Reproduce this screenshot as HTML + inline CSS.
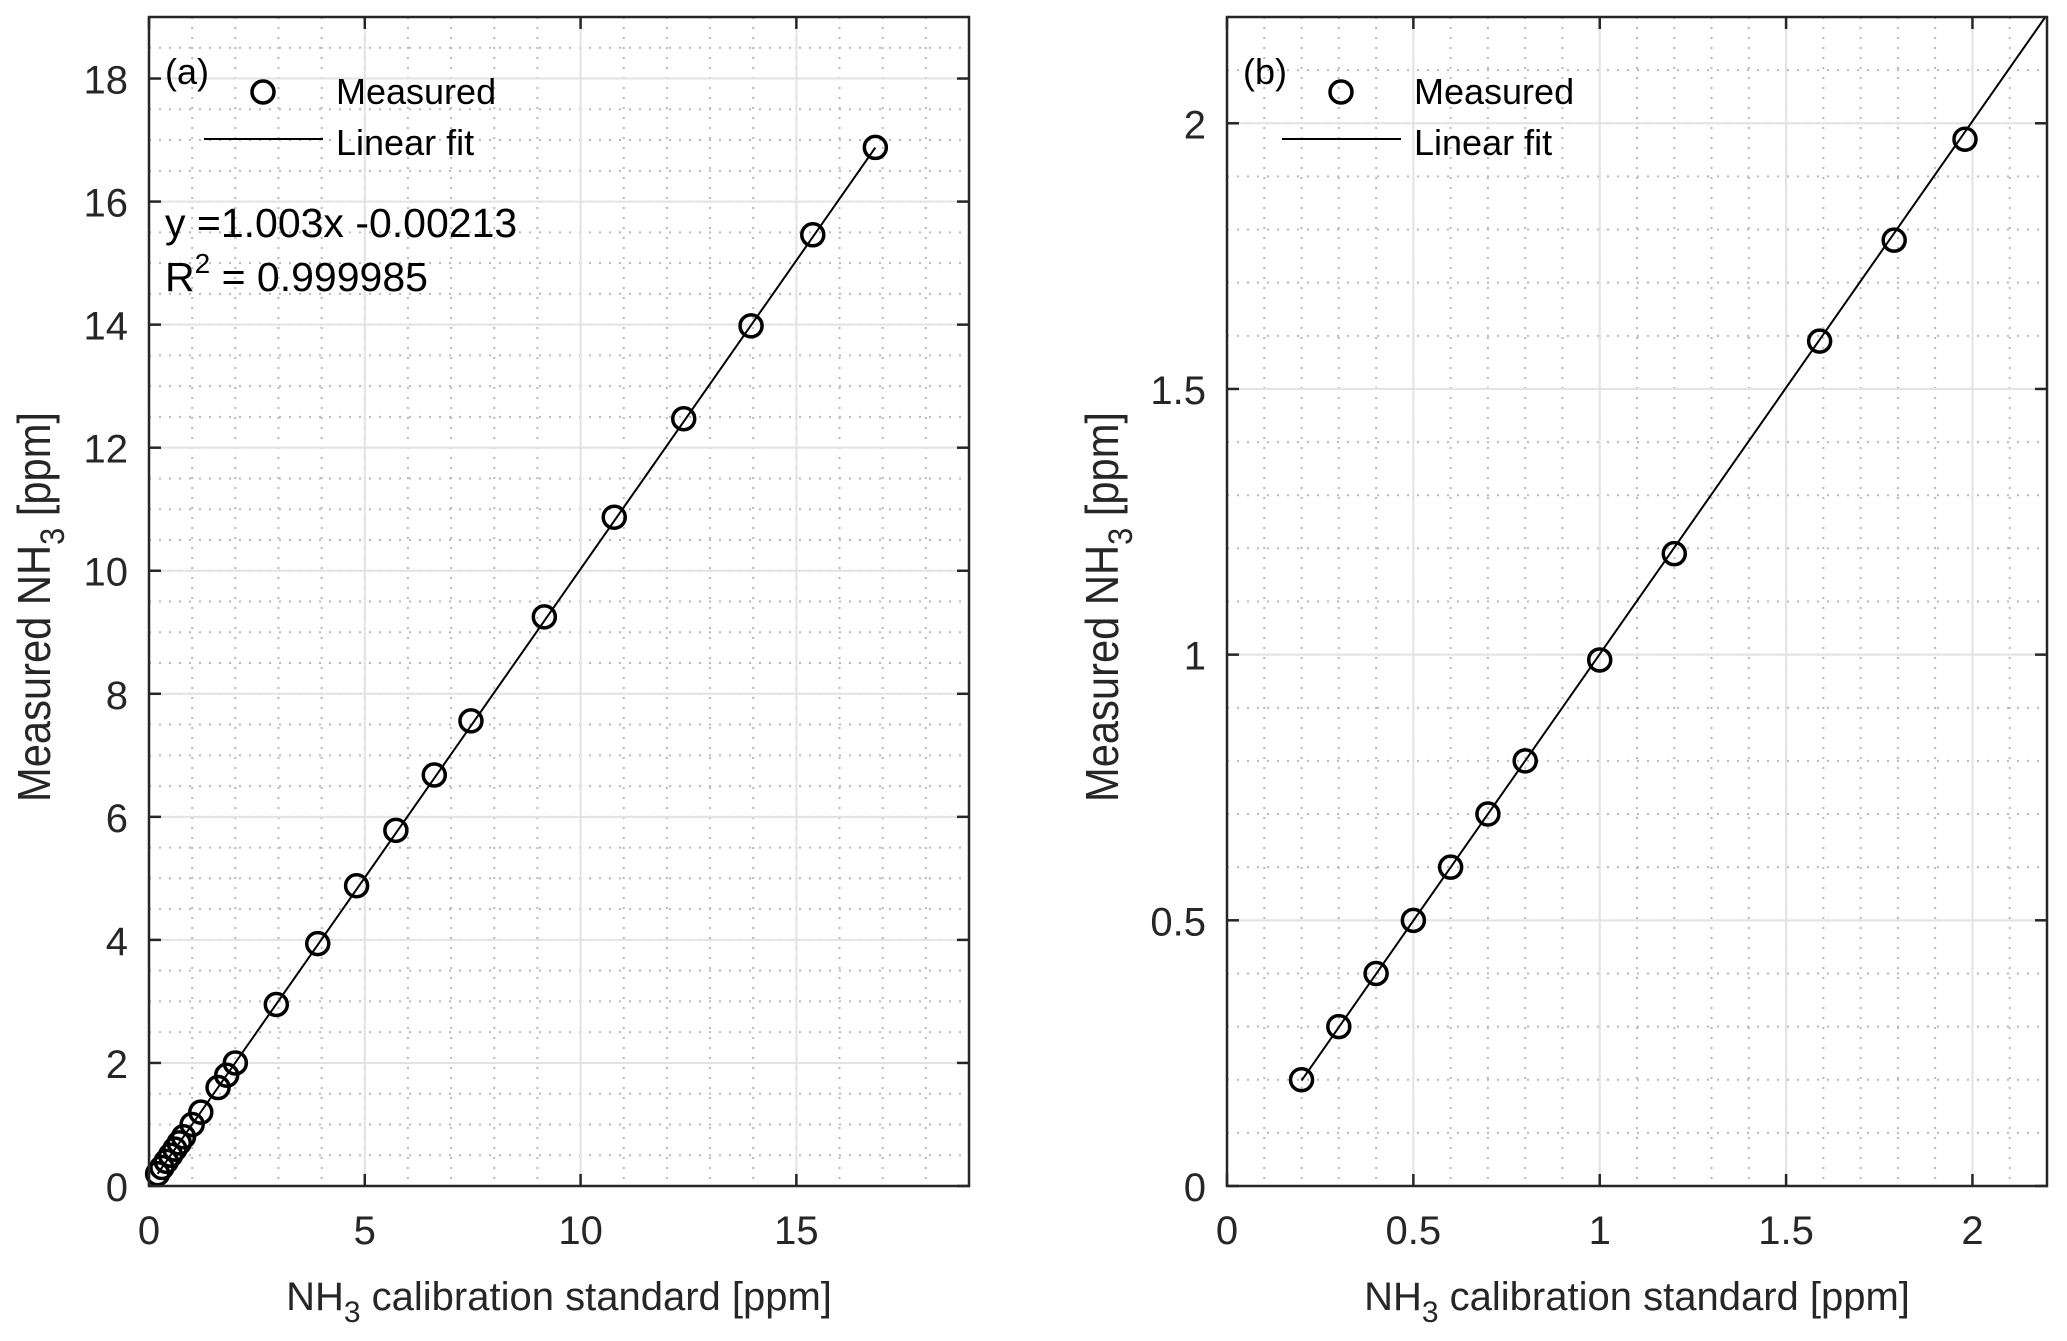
<!DOCTYPE html>
<html><head><meta charset="utf-8"><style>
html,body{margin:0;padding:0;background:#fff;}
svg{display:block;font-family:"Liberation Sans",Arial,sans-serif;}
</style></head><body>
<svg id="fig" width="2067" height="1341" viewBox="0 0 2067 1341" xmlns="http://www.w3.org/2000/svg"></svg>
<script>
// Panel (a) data
const aX = [0.2,0.3,0.4,0.5,0.6,0.7,0.8,1.0,1.2,1.6,1.8,2.0,2.95,3.91,4.81,5.72,6.61,7.46,9.16,10.78,12.39,13.95,15.38,16.83];
const aY = [0.2,0.3,0.4,0.5,0.6,0.7,0.8,1.0,1.2,1.6,1.8,2.0,2.95,3.94,4.88,5.78,6.68,7.56,9.25,10.87,12.47,13.98,15.46,16.88];
const aXTicks = [0,5,10,15];
const aYTicks = [0,2,4,6,8,10,12,14,16,18];
// Panel (b) data
const bX = [0.2,0.3,0.4,0.5,0.6,0.7,0.8,1.0,1.2,1.59,1.79,1.98];
const bY = [0.2,0.3,0.4,0.5,0.6,0.7,0.8,0.99,1.19,1.59,1.78,1.97];
const bXTicks = [0,0.5,1,1.5,2];
const bYTicks = [0,0.5,1,1.5,2];
const fitSlope = 1.003, fitIntercept = -0.00213;

const NS = "http://www.w3.org/2000/svg";
const svg = document.getElementById('fig');
function mk(tag, attrs, parent){
  const e = document.createElementNS(NS, tag);
  for (const k in attrs) e.setAttribute(k, attrs[k]);
  (parent||svg).appendChild(e);
  return e;
}

function panel(cfg){
  const g = mk('g', {});
  
  
  const L=cfg.L,R=cfg.R,T=cfg.T,B=cfg.B;
  const sx = v => L + (v - cfg.xmin)/(cfg.xmax-cfg.xmin)*(R-L);
  const sy = v => B - (v - cfg.ymin)/(cfg.ymax-cfg.ymin)*(B-T);
  const clipId = cfg.name + '-clip';
  const cp = mk('clipPath', {id: clipId}, g);
  mk('rect', {x:L, y:T, width:R-L, height:B-T}, cp);
  for (let v = cfg.xmin; v <= cfg.xmax + 1e-9; v += cfg.xMinor){
    const ln = mk('line', {x1:sx(v), x2:sx(v), y1:T, y2:B, stroke:'#b8b8b8', 'stroke-width':2, 'stroke-dasharray':'2 8'}, g);
    
    
  }
  for (let v = cfg.ymin; v <= cfg.ymax + 1e-9; v += cfg.yMinor){
    const ln = mk('line', {x1:L, x2:R, y1:sy(v), y2:sy(v), stroke:'#b8b8b8', 'stroke-width':2, 'stroke-dasharray':'2 8'}, g);
    
    
  }
  cfg.xTicks.forEach(v => {
    const ln = mk('line', {x1:sx(v), x2:sx(v), y1:T, y2:B, stroke:'#e3e3e3', 'stroke-width':2}, g);
    
    
  });
  cfg.yTicks.forEach(v => {
    const ln = mk('line', {x1:L, x2:R, y1:sy(v), y2:sy(v), stroke:'#e3e3e3', 'stroke-width':2}, g);
    
    
  });
  cfg.xTicks.forEach(v => {
    mk('line', {x1:sx(v), x2:sx(v), y1:B, y2:B-12, stroke:'#262626', 'stroke-width':2.5}, g);
    mk('line', {x1:sx(v), x2:sx(v), y1:T, y2:T+12, stroke:'#262626', 'stroke-width':2.5}, g);
    const t = mk('text', {x:sx(v), y:1244, 'text-anchor':'middle', 'font-size':40, fill:'#262626'}, g);
    t.textContent = String(v);
    
    
  });
  cfg.yTicks.forEach(v => {
    mk('line', {x1:L, x2:L+12, y1:sy(v), y2:sy(v), stroke:'#262626', 'stroke-width':2.5}, g);
    mk('line', {x1:R, x2:R-12, y1:sy(v), y2:sy(v), stroke:'#262626', 'stroke-width':2.5}, g);
    const t = mk('text', {x:L-21, y:sy(v)+15, 'text-anchor':'end', 'font-size':40, fill:'#262626'}, g);
    t.textContent = String(v);
    
    
  });
  const fx0 = cfg.fitFrom, fx1 = cfg.fitTo;
  const fl = mk('line', {x1:sx(fx0), y1:sy(fitSlope*fx0+fitIntercept), x2:sx(fx1), y2:sy(fitSlope*fx1+fitIntercept), stroke:'#000', 'stroke-width':2, 'clip-path':'url(#'+clipId+')'}, g);
  
  
  cfg.xs.forEach((x,i) => {
    const c = mk('circle', {cx:sx(x), cy:sy(cfg.ys[i]), r:11, fill:'none', stroke:'#000', 'stroke-width':3.5}, g);
    
    
  });
  const box = mk('rect', {x:L, y:T, width:R-L, height:B-T, fill:'none', stroke:'#262626', 'stroke-width':2.5}, g);
  
  
  const xt = mk('text', {x:(L+R)/2, y:1310, 'text-anchor':'middle', 'font-size':40, fill:'#262626'}, g);
  xt.innerHTML = 'NH<tspan dy="12" font-size="30">3</tspan><tspan dy="-12"> calibration standard [ppm]</tspan>';
  
  
  const yx = cfg.ytitleX, yc = 607;
  const yt = mk('text', {x:yx, y:yc, 'text-anchor':'middle', 'font-size':46, fill:'#262626', transform:'rotate(-90 '+yx+' '+yc+')', textLength:390, lengthAdjust:'spacingAndGlyphs'}, g);
  yt.innerHTML = 'Measured NH<tspan dy="14" font-size="34">3</tspan><tspan dy="-14"> [ppm]</tspan>';
  
  
  const lg = mk('g', {}, g);
  
  
  const pl = mk('text', {x:L+16, y:84, 'font-size':36, fill:'#000'}, lg);
  pl.textContent = cfg.label;
  
  
  const lc = mk('circle', {cx:L+114, cy:92, r:11, fill:'none', stroke:'#000', 'stroke-width':3.5}, lg);
  
  
  const lt1 = mk('text', {x:L+187, y:104, 'font-size':36, fill:'#000'}, lg);
  lt1.textContent = 'Measured';
  
  
  const ll = mk('line', {x1:L+55, x2:L+174, y1:139, y2:139, stroke:'#000', 'stroke-width':2}, lg);
  
  
  const lt2 = mk('text', {x:L+187, y:155, 'font-size':36, fill:'#000'}, lg);
  lt2.textContent = 'Linear fit';
  
  
  return g;
}

panel({name:'panel-a', label:'(a)', L:149, R:969, T:17, B:1186, xmin:0, xmax:19, ymin:0, ymax:19,
  xMinor:1, yMinor:0.5, xTicks:aXTicks, yTicks:aYTicks, xs:aX, ys:aY, fitFrom:aX[0], fitTo:aX[aX.length-1], ytitleX:50});
panel({name:'panel-b', label:'(b)', L:1227, R:2047, T:17, B:1186, xmin:0, xmax:2.2, ymin:0, ymax:2.2,
  xMinor:0.1, yMinor:0.1, xTicks:bXTicks, yTicks:bYTicks, xs:bX, ys:bY, fitFrom:bX[0], fitTo:2.3, ytitleX:1118});

const eq = mk('text', {x:165, y:237, 'font-size':41, fill:'#000'});
eq.textContent = 'y =1.003x -0.00213';


const r2 = mk('text', {x:165, y:291, 'font-size':41, fill:'#000'});
r2.innerHTML = 'R<tspan dy="-18" font-size="28">2</tspan><tspan dy="18"> = 0.999985</tspan>';


</script>
</body></html>
